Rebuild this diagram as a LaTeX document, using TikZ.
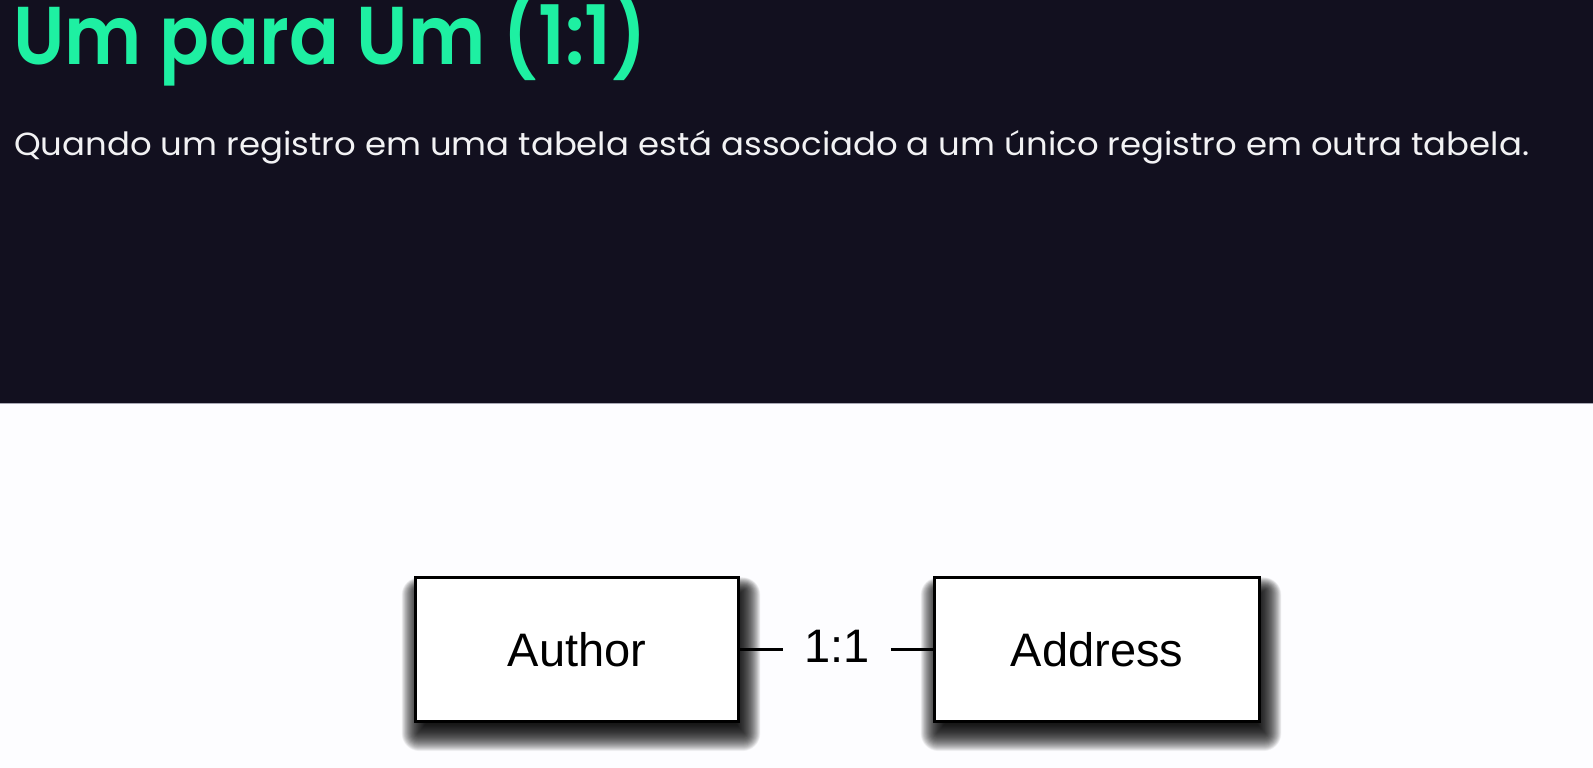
\documentclass[tikz,border=0pt]{standalone}
\usepackage{fontspec}
\usepackage{graphicx}
\setmainfont{Liberation Sans}
\newfontfamily\popfont{Poppins}
\newfontfamily\poptitle{Poppins SemiBold}
\definecolor{bandbg}{HTML}{12101F}
\definecolor{titlegreen}{HTML}{1EF0A2}
\definecolor{pagebg}{HTML}{FDFDFF}
\definecolor{subwhite}{HTML}{F2F2F4}
\definecolor{edgegray}{HTML}{A8A8B4}
\pgfdeclarelayer{bgpage}
\pgfdeclarelayer{shadowlayer}
\pgfsetlayers{bgpage,shadowlayer,main}
\begin{document}
\begin{tikzpicture}[x=1pt,y=-1pt,
  entity/.style={draw=black, line width=3.4pt, fill=white,
    minimum width=323pt, minimum height=144pt, inner sep=0pt,
    font=\fontsize{47}{56}\selectfont},
  shadowpiece/.style={fill=black, fill opacity=0.036, draw=none},
  link/.style={line width=3.4pt, draw=black},
  cardinality/.style={inner ysep=0pt, inner xsep=21pt, font=\fontsize{47}{56}\selectfont}]
  \useasboundingbox (0,0) rectangle (1593,768);
  % background
  \begin{pgfonlayer}{bgpage}
    \fill[pagebg] (0,0) rectangle (1593,768);
    \fill[bandbg] (0,0) rectangle (1593,403);
    \draw[edgegray, line width=1.2pt] (0,403.6) -- (1593,403.6);
  \end{pgfonlayer}
  % title and subtitle
  \node[anchor=base west, inner sep=0pt, text=titlegreen] (title) at (13,65)
    {\resizebox{634pt}{\height}{\poptitle\fontsize{82}{90}\selectfont Um para Um (1:1)}};
  \node[anchor=base west, inner sep=0pt, text=subwhite] (subtitle) at (14,155)
    {\resizebox{1515pt}{\height}{\popfont\fontsize{32}{36}\selectfont Quando um registro em uma tabela está associado a um único registro em outra tabela.}};
  % entities
  \node[entity] (author) at (577,649.5) {Author};
  \node[entity, minimum width=325pt] (address) at (1097,649.5) {Address};
  \node[cardinality] (card) at (837,646) {1:1};
  \draw[link] (author.east) -- (author.east -| card.west);
  \draw[link] (address.west -| card.east) -- (address.west);
  % soft shadows (stacked translucent rounded rectangles)
  \begin{pgfonlayer}{shadowlayer}
    \foreach \e in {-10,-9.5,...,18} {
      \pgfmathsetmacro{\rr}{max(\e,0.1)}
      \foreach \b in {author,address} {
        \fill[shadowpiece, rounded corners=\rr pt]
          ([shift={(4-0.9*\e,10+\e)}]\b.south west) rectangle ([shift={(4+0.9*\e,14-0.7*\e)}]\b.north east);
      }
    }
  \end{pgfonlayer}
\end{tikzpicture}
\end{document}
